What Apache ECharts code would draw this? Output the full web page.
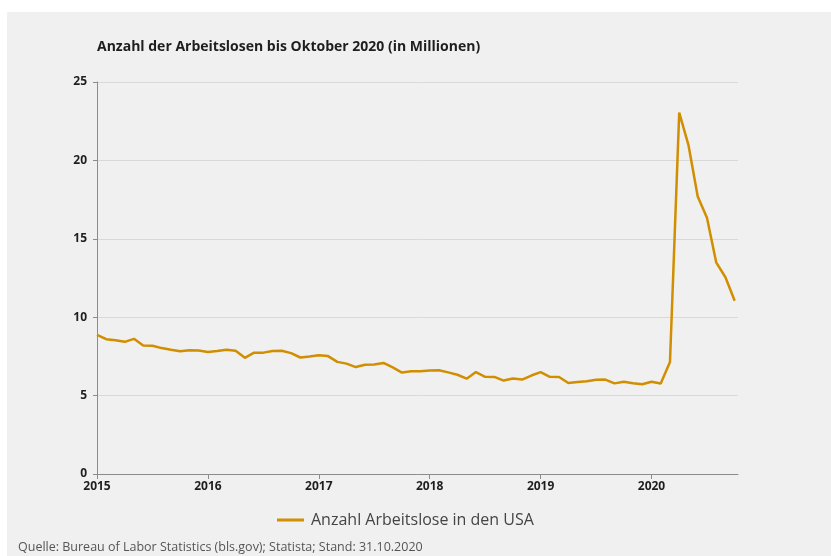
<!DOCTYPE html>
<html>
<head>
<meta charset="utf-8">
<script src="https://cdn.jsdelivr.net/npm/echarts@6/dist/echarts.min.js"></script>
<style>
  html, body { margin: 0; padding: 0; background: #ffffff; }
  #chart { width: 831px; height: 556px; }
</style>
</head>
<body>
<div id="chart"></div>
<script>
// Arbeitslose in den USA (Millionen), monatlich, saisonbereinigt
const years = [2015, 2016, 2017, 2018, 2019, 2020];
const unemployed2015 = [8.88, 8.60, 8.53, 8.43, 8.62, 8.20, 8.18, 8.03, 7.92, 7.83, 7.89, 7.87];
const unemployed2016 = [7.78, 7.84, 7.93, 7.86, 7.41, 7.74, 7.74, 7.84, 7.86, 7.71, 7.43, 7.50];
const unemployed2017 = [7.58, 7.52, 7.15, 7.04, 6.82, 6.97, 6.99, 7.08, 6.80, 6.47, 6.55, 6.56];
const unemployed2018 = [6.60, 6.62, 6.48, 6.33, 6.08, 6.50, 6.20, 6.19, 5.96, 6.09, 6.02, 6.28];
const unemployed2019 = [6.50, 6.20, 6.19, 5.80, 5.87, 5.92, 6.01, 6.02, 5.78, 5.88, 5.79, 5.72];
const unemployed2020 = [5.88, 5.77, 7.14, 23.05, 20.98, 17.70, 16.35, 13.50, 12.55, 11.05];
const yTicks = [0, 5, 10, 15, 20, 25];

const seriesName = 'Anzahl Arbeitslose in den USA';
const titleText = 'Anzahl der Arbeitslosen bis Oktober 2020 (in Millionen)';
const sourceText = 'Quelle: Bureau of Labor Statistics (bls.gov); Statista; Stand: 31.10.2020';

// monthly points placed at year + month/12
const monthly = [unemployed2015, unemployed2016, unemployed2017,
                 unemployed2018, unemployed2019, unemployed2020];
const points = [];
monthly.forEach((vals, yi) => {
  vals.forEach((v, m) => points.push([years[yi] + m / 12, v]));
});

const chart = echarts.init(document.getElementById('chart'), null, { renderer: 'canvas' });
const font = '"Open Sans", "Liberation Sans", sans-serif';

chart.setOption({
  backgroundColor: '#ffffff',
  animation: false,
  graphic: [
    { type: 'rect', z: -10, shape: { x: 7, y: 12, width: 824, height: 544 },
      style: { fill: '#f0f0f0' } },
    { type: 'text', left: 97, top: 40,
      style: { text: titleText, font: 'bold 14px ' + font, fill: '#1e1e1e' } },
    { type: 'text', left: 18, top: 541,
      style: { text: sourceText, font: '12.5px ' + font, fill: '#555555' } }
  ],
  grid: { left: 97, top: 82, right: 93, bottom: 82, containLabel: false },
  legend: {
    data: [seriesName],
    bottom: 23,
    left: 272,
    icon: 'rect',
    itemWidth: 27,
    itemHeight: 3,
    itemGap: 10,
    textStyle: { fontFamily: font, fontSize: 16, color: '#444444', padding: [0, 0, 0, 2] }
  },
  xAxis: {
    type: 'value',
    min: 2015,
    max: 2020.78,
    interval: 1,
    axisLine: { show: true, lineStyle: { color: '#8c8c8c', width: 1 } },
    axisTick: { show: true, length: 5, lineStyle: { color: '#8c8c8c' }, customValues: years },
    axisLabel: { customValues: years, margin: 7, fontFamily: font, fontSize: 12,
                 fontWeight: 'bold', color: '#1e1e1e', formatter: v => String(Math.round(v)) },
    splitLine: { show: false }
  },
  yAxis: {
    type: 'value',
    min: yTicks[0],
    max: yTicks[yTicks.length - 1],
    interval: 5,
    axisLine: { show: true, lineStyle: { color: '#8c8c8c', width: 1 } },
    axisTick: { show: true, length: 4, lineStyle: { color: '#8c8c8c' } },
    axisLabel: { margin: 10, fontFamily: font, fontSize: 12, fontWeight: 'bold', color: '#1e1e1e' },
    splitLine: { show: true, lineStyle: { color: '#d9d9d9', width: 1 } }
  },
  series: [{
    name: seriesName,
    type: 'line',
    data: points,
    showSymbol: false,
    symbol: 'none',
    color: '#d18e00',
    lineStyle: { color: '#d18e00', width: 2.5 }
  }]
});
</script>
</body>
</html>
